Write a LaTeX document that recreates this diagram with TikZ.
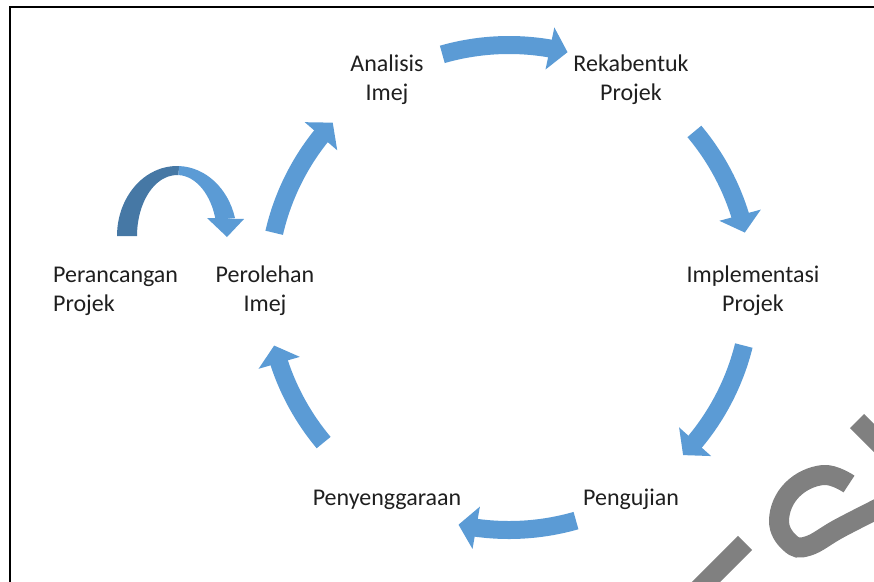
\documentclass[tikz,border=0pt]{standalone}
\usepackage{fontspec}
\setmainfont{Carlito}
\usetikzlibrary{arrows.meta,bending}
\definecolor{cyc}{HTML}{5B9BD5}
\definecolor{cycdark}{HTML}{4678A5}
\definecolor{wm}{HTML}{808080}
\begin{document}
\begin{tikzpicture}[x=1pt,y=1pt,
  lbl/.style={font=\fontsize{24}{29}\selectfont, align=center, inner sep=0pt, text=black!88},
  cycarrow/.style={draw=cyc, line width=18pt, -{Triangle[width=42pt,length=18pt,flex]}},
  wmstroke/.style={draw=wm, line width=20pt}]
\useasboundingbox (0,0) rectangle (874,-581);
\clip (0,0) rectangle (874,-581);
% frame
\draw[line width=2.2pt] (10,-600) -- (10,-7) -- (890,-7);
% labels (anchor base = baseline of the last line)
\node[lbl, anchor=base] (ana) at (387,-100) {Analisis\\Imej};
\node[lbl, anchor=base] (rek) at (631,-100) {Rekabentuk\\Projek};
\node[lbl, anchor=base] (imp) at (753,-311) {Implementasi\\Projek};
\node[lbl, anchor=base] (pen) at (631,-505) {Pengujian};
\node[lbl, anchor=base] (sel) at (387,-505) {Penyenggaraan};
\node[lbl, anchor=base] (per) at (265,-311) {Perolehan\\Imej};
\node[lbl, anchor=base west, align=left] (ran) at (53,-311) {Perancangan\\Projek};
% cycle arrows
\coordinate (c) at (509,-287);
\coordinate (s1) at ([shift={(c)}]106:242);
\coordinate (s2) at ([shift={(c)}]40:242);
\coordinate (s3) at ([shift={(c)}]-14:242);
\coordinate (s4) at ([shift={(c)}]-74:243);
\coordinate (s5) at ([shift={(c)}]220:242);
\coordinate (s6) at ([shift={(c)}]167:241);
\draw[cycarrow] (s1) arc[start angle=106, end angle=76, radius=242];
\draw[cycarrow] (s2) arc[start angle=40, end angle=13, radius=242];
\draw[cycarrow] (s3) arc[start angle=-14, end angle=-44, radius=242];
\draw[cycarrow] (s4) arc[start angle=-74, end angle=-102, radius=243];
\draw[cycarrow] (s5) arc[start angle=220, end angle=194, radius=242];
\draw[cycarrow] (s6) arc[start angle=167, end angle=137, radius=241];
% self arrow (Perancangan -> Perolehan)
\coordinate (sc) at (177,-236);
\fill[cycdark] ([shift={(sc)}]180:60 and 70) arc[start angle=180, end angle=88, x radius=60, y radius=70]
  -- ([shift={(sc)}]88:40 and 61) arc[start angle=88, end angle=180, x radius=40, y radius=61] -- cycle;
\fill[cyc] ([shift={(sc)}]88:60 and 70) arc[start angle=88, end angle=15, x radius=60, y radius=70]
  -- ([shift={(sc)}]15:40 and 61) arc[start angle=15, end angle=88, x radius=40, y radius=61] -- cycle;
\coordinate (hl) at (207,-218);
\coordinate (hr) at (244,-219);
\coordinate (ht) at (227,-237);
\fill[cyc] (hl) -- (hr) -- (ht) -- cycle;
% watermark strokes
\coordinate (w1a) at (745,-543);
\coordinate (w1b) at (690,-598);
\draw[wmstroke] (w1a) -- (w1b);
\coordinate (w2a) at (857,-421);
\coordinate (w2b) at (900,-464);
\draw[wmstroke] (w2a) -- (w2b);
\draw[wmstroke] plot[smooth, tension=0.7] coordinates {(849,-484) (823,-475) (792,-490) (779,-520) (790,-543) (808,-546) (840,-528) (885,-505)};
\end{tikzpicture}
\end{document}
